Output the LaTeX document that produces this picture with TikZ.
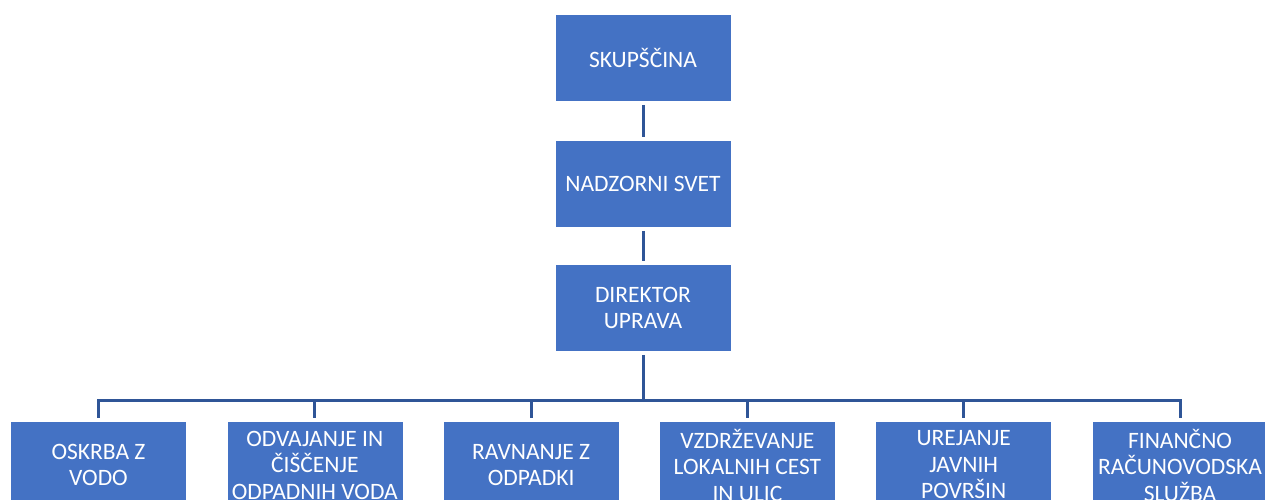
\documentclass[tikz,border=0pt]{standalone}
\usepackage{fontspec}
\setmainfont{Carlito}
\usepackage{tikz}
\definecolor{boxblue}{HTML}{4472C4}
\definecolor{lineblue}{HTML}{2F5597}

\begin{document}
\begin{tikzpicture}[main/.style = {fill=boxblue, draw=white, line width=0.6pt, text=white,
        minimum width=176pt, minimum height=87pt, inner sep=0pt, align=center,
        font=\fontsize{23.5}{26.5}\selectfont},
    con/.style = {draw=lineblue, line width=3pt, shorten >=3pt, shorten <=3pt}]
    \useasboundingbox (0,0) rectangle (1265pt,-500pt);

    \node[main] (1) at (643pt,-58pt) {SKUPŠČINA};
    \node[main] (2) [below of=1, node distance=126pt] {NADZORNI SVET};
    \node[main] (3) [below of=2, node distance=124pt] {DIREKTOR\\UPRAVA};
    \node[main] (4) at (98.5pt,-465pt) {OSKRBA Z\\VODO};
    \node[main] (5) [right of=4, node distance=216.3pt] {ODVAJANJE IN\\ČIŠČENJE\\ODPADNIH VODA};
    \node[main] (6) [right of=5, node distance=216.3pt] {RAVNANJE Z\\ODPADKI};
    \node[main] (7) [right of=6, node distance=216.3pt] {VZDRŽEVANJE\\LOKALNIH CEST\\IN ULIC};
    \node[main] (8) [right of=7, node distance=216.3pt] {UREJANJE\\JAVNIH\\POVRŠIN};
    \node[main] (9) [right of=8, node distance=216.3pt] {FINANČNO\\RAČUNOVODSKA\\SLUŽBA};
    \coordinate (bus) at (643pt,-400pt);

    \draw[con] (1) -- (2);
    \draw[con] (2) -- (3);
    \draw[con, shorten >=0pt] (3) -- (bus);
    \draw[con, shorten <=0pt] (bus) -| (4);
    \draw[con, shorten <=0pt] (bus) -| (5);
    \draw[con, shorten <=0pt] (bus) -| (6);
    \draw[con, shorten <=0pt] (bus) -| (7);
    \draw[con, shorten <=0pt] (bus) -| (8);
    \draw[con, shorten <=0pt] (bus) -| (9);
    \end{tikzpicture}
\end{document}
